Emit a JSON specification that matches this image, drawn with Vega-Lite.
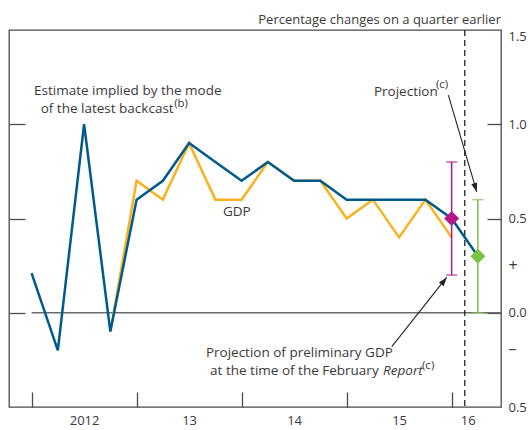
{
  "$schema": "https://vega.github.io/schema/vega-lite/v6.json",
  "width": 492,
  "height": 377,
  "autosize": {"type": "none"},
  "padding": {"left": 9, "top": 30, "right": 29, "bottom": 23},
  "title": {"text": "Percentage changes on a quarter earlier", "anchor": "end", "frame": "group", "fontSize": 13, "font": "Open Sans", "fontWeight": "normal", "color": "#3a3a3a", "offset": -8, "baseline": "alphabetic"},
  "config": {"view": {"stroke": "#4a4a4a", "strokeWidth": 1.3}, "font": "Open Sans"},
  "resolve": {"axis": {"x": "independent", "y": "independent"}},
  "datasets": {
    "series": [
      {"q": 0, "v": 0.21, "series": "Backcast"},
      {"q": 1, "v": -0.2, "series": "Backcast"},
      {"q": 2, "v": 1.0, "series": "Backcast"},
      {"q": 3, "v": -0.1, "series": "Backcast"},
      {"q": 4, "v": 0.6, "series": "Backcast"},
      {"q": 5, "v": 0.7, "series": "Backcast"},
      {"q": 6, "v": 0.9, "series": "Backcast"},
      {"q": 7, "v": 0.8, "series": "Backcast"},
      {"q": 8, "v": 0.7, "series": "Backcast"},
      {"q": 9, "v": 0.8, "series": "Backcast"},
      {"q": 10, "v": 0.7, "series": "Backcast"},
      {"q": 11, "v": 0.7, "series": "Backcast"},
      {"q": 12, "v": 0.6, "series": "Backcast"},
      {"q": 13, "v": 0.6, "series": "Backcast"},
      {"q": 14, "v": 0.6, "series": "Backcast"},
      {"q": 15, "v": 0.6, "series": "Backcast"},
      {"q": 16, "v": 0.5, "series": "Backcast"},
      {"q": 17, "v": 0.3, "series": "Backcast"},
      {"q": 3, "v": -0.1, "series": "GDP"},
      {"q": 4, "v": 0.7, "series": "GDP"},
      {"q": 5, "v": 0.6, "series": "GDP"},
      {"q": 6, "v": 0.9, "series": "GDP"},
      {"q": 7, "v": 0.6, "series": "GDP"},
      {"q": 8, "v": 0.6, "series": "GDP"},
      {"q": 9, "v": 0.8, "series": "GDP"},
      {"q": 10, "v": 0.7, "series": "GDP"},
      {"q": 11, "v": 0.7, "series": "GDP"},
      {"q": 12, "v": 0.5, "series": "GDP"},
      {"q": 13, "v": 0.6, "series": "GDP"},
      {"q": 14, "v": 0.4, "series": "GDP"},
      {"q": 15, "v": 0.6, "series": "GDP"},
      {"q": 16, "v": 0.4, "series": "GDP"}
    ],
    "proj": [
      {"q": 16, "v": 0.5, "lo": 0.2, "hi": 0.8, "kind": "February projection"},
      {"q": 17, "v": 0.3, "lo": 0.0, "hi": 0.6, "kind": "Projection"}
    ],
    "zero": [{"q": 0, "v": 0}],
    "divider": [{"q": 16.5}],
    "arrows": [
      {"q": 15.875, "v": 1.155, "q2": 16.957, "v2": 0.641, "qh": 16.903, "vh": 0.666, "angle": 163.7},
      {"q": 13.72, "v": -0.18, "q2": 15.81, "v2": 0.188, "qh": 15.7, "vh": 0.167, "angle": 38.4}
    ],
    "notes": [
      {"q": 0.092, "v": 1.155, "text": "Estimate implied by the mode"},
      {"q": 0.347, "v": 1.058, "text": "of the latest backcast"},
      {"q": 7.29, "v": 0.513, "text": "GDP"},
      {"q": 13.04, "v": 1.15, "text": "Projection"},
      {"q": 6.64, "v": -0.235, "text": "Projection of preliminary GDP"},
      {"q": 6.8, "v": -0.33, "text": "at the time of the February"}
    ],
    "italic": [
      {"q": 13.39, "v": -0.33, "text": "Report"}
    ],
    "supers": [
      {"q": 5.43, "v": 1.089, "text": "(b)"},
      {"q": 15.4, "v": 1.192, "text": "(c)"},
      {"q": 14.87, "v": -0.298, "text": "(c)"}
    ]
  },
  "layer": [
    {
      "data": {"name": "zero"},
      "mark": {"type": "rule", "color": "#6b6b6b", "strokeWidth": 1.6},
      "encoding": {
        "x": {"field": "q", "type": "quantitative", "scale": {"domain": [-0.86, 17.88], "nice": false, "zero": false},
          "axis": {"values": [0, 4, 8, 12, 16], "title": null, "domain": false, "grid": false, "tickSize": -15, "tickColor": "#4a4a4a", "tickWidth": 1.3,
            "labelExpr": "datum.value == 0 ? '2012' : datum.value == 4 ? '13' : datum.value == 8 ? '14' : datum.value == 12 ? '15' : '16'",
            "labelOffset": {"condition": {"test": "datum.value == 16", "value": 16}, "value": 52.5},
            "labelPadding": 22, "labelFontSize": 13, "labelColor": "#3a3a3a", "labelFont": "Open Sans", "labelFlush": false, "labelOverlap": false, "labelBaseline": "top"}},
        "x2": {"value": "width"},
        "y": {"field": "v", "type": "quantitative", "scale": {"domain": [-0.5, 1.5], "nice": false, "zero": false},
          "axis": {"orient": "left", "values": [0, 0.5, 1], "title": null, "domain": false, "grid": false, "labels": false, "tickSize": -16, "tickColor": "#4a4a4a", "tickWidth": 1.3}}
      }
    },
    {
      "data": {"name": "divider"},
      "mark": {"type": "rule", "color": "#222222", "strokeWidth": 1.3, "strokeDash": [6, 4]},
      "encoding": {
        "x": {"field": "q", "type": "quantitative", "axis": null}
      }
    },
    {
      "data": {"name": "series"},
      "transform": [{"filter": "datum.series == 'GDP'"}],
      "mark": {"type": "line", "color": "#F9B11E", "strokeWidth": 2.5},
      "encoding": {
        "x": {"field": "q", "type": "quantitative", "axis": null},
        "y": {"field": "v", "type": "quantitative", "axis": null}
      }
    },
    {
      "data": {"name": "series"},
      "transform": [{"filter": "datum.series == 'Backcast'"}],
      "mark": {"type": "line", "color": "#005A8C", "strokeWidth": 2.5},
      "encoding": {
        "x": {"field": "q", "type": "quantitative", "axis": null},
        "y": {"field": "v", "type": "quantitative",
          "axis": {"orient": "right", "values": [-0.5, -0.19, 0, 0.25, 0.5, 1, 1.5], "title": null, "domain": false, "grid": false,
            "tickSize": -14, "tickColor": "#4a4a4a", "tickWidth": 1.3,
            "tickOpacity": {"condition": {"test": "datum.value == 0.25 || datum.value == -0.19 || datum.value == 1.5 || datum.value == -0.5", "value": 0}, "value": 1},
            "labelExpr": "datum.value == 0.25 ? '+' : datum.value == -0.19 ? '–' : format(abs(datum.value), '.1f')",
            "labelPadding": 21, "labelFontSize": {"condition": {"test": "datum.value == 0.25 || datum.value == -0.19", "value": 16}, "value": 13},
            "labelColor": "#3a3a3a", "labelFont": "Open Sans",
            "labelBaseline": {"condition": {"test": "datum.value == 1.5", "value": "top"}, "value": "middle"},
            "labelFlush": false, "labelOverlap": false, "labelBound": false}}
      }
    },
    {
      "data": {"name": "proj"},
      "mark": {"type": "rule", "strokeWidth": 1.5},
      "encoding": {
        "x": {"field": "q", "type": "quantitative", "axis": null},
        "y": {"field": "lo", "type": "quantitative", "axis": null},
        "y2": {"field": "hi"},
        "color": {"field": "kind", "type": "nominal", "scale": {"domain": ["February projection", "Projection"], "range": ["#B3198A", "#7CC242"]}, "legend": null}
      }
    },
    {
      "data": {"name": "proj"},
      "mark": {"type": "tick", "orient": "horizontal", "size": 11, "thickness": 1.5},
      "encoding": {
        "x": {"field": "q", "type": "quantitative", "axis": null},
        "y": {"field": "lo", "type": "quantitative", "axis": null},
        "color": {"field": "kind", "type": "nominal", "legend": null}
      }
    },
    {
      "data": {"name": "proj"},
      "mark": {"type": "tick", "orient": "horizontal", "size": 11, "thickness": 1.5},
      "encoding": {
        "x": {"field": "q", "type": "quantitative", "axis": null},
        "y": {"field": "hi", "type": "quantitative", "axis": null},
        "color": {"field": "kind", "type": "nominal", "legend": null}
      }
    },
    {
      "data": {"name": "proj"},
      "mark": {"type": "point", "shape": "diamond", "filled": true, "size": 225, "opacity": 1},
      "encoding": {
        "x": {"field": "q", "type": "quantitative", "axis": null},
        "y": {"field": "v", "type": "quantitative", "axis": null},
        "color": {"field": "kind", "type": "nominal", "legend": null}
      }
    },
    {
      "data": {"name": "arrows"},
      "mark": {"type": "rule", "color": "#222222", "strokeWidth": 1.1},
      "encoding": {
        "x": {"field": "q", "type": "quantitative", "axis": null},
        "y": {"field": "v", "type": "quantitative", "axis": null},
        "x2": {"field": "q2"},
        "y2": {"field": "v2"}
      }
    },
    {
      "data": {"name": "arrows"},
      "mark": {"type": "point", "shape": "M0,-1L-0.6,0.8L0.6,0.8Z", "filled": true, "size": 100, "color": "#222222", "opacity": 1},
      "encoding": {
        "x": {"field": "qh", "type": "quantitative", "axis": null},
        "y": {"field": "vh", "type": "quantitative", "axis": null},
        "angle": {"field": "angle", "type": "quantitative", "scale": null}
      }
    },
    {
      "data": {"name": "notes"},
      "mark": {"type": "text", "align": "left", "baseline": "alphabetic", "fontSize": 13.5, "font": "Open Sans", "color": "#3a3a3a"},
      "encoding": {
        "x": {"field": "q", "type": "quantitative", "axis": null},
        "y": {"field": "v", "type": "quantitative", "axis": null},
        "text": {"field": "text"}
      }
    },
    {
      "data": {"name": "italic"},
      "mark": {"type": "text", "align": "left", "baseline": "alphabetic", "fontSize": 13.5, "font": "Open Sans", "fontStyle": "italic", "color": "#3a3a3a"},
      "encoding": {
        "x": {"field": "q", "type": "quantitative", "axis": null},
        "y": {"field": "v", "type": "quantitative", "axis": null},
        "text": {"field": "text"}
      }
    },
    {
      "data": {"name": "supers"},
      "mark": {"type": "text", "align": "left", "baseline": "alphabetic", "fontSize": 11.5, "font": "Open Sans", "color": "#3a3a3a"},
      "encoding": {
        "x": {"field": "q", "type": "quantitative", "axis": null},
        "y": {"field": "v", "type": "quantitative", "axis": null},
        "text": {"field": "text"}
      }
    }
  ]
}
